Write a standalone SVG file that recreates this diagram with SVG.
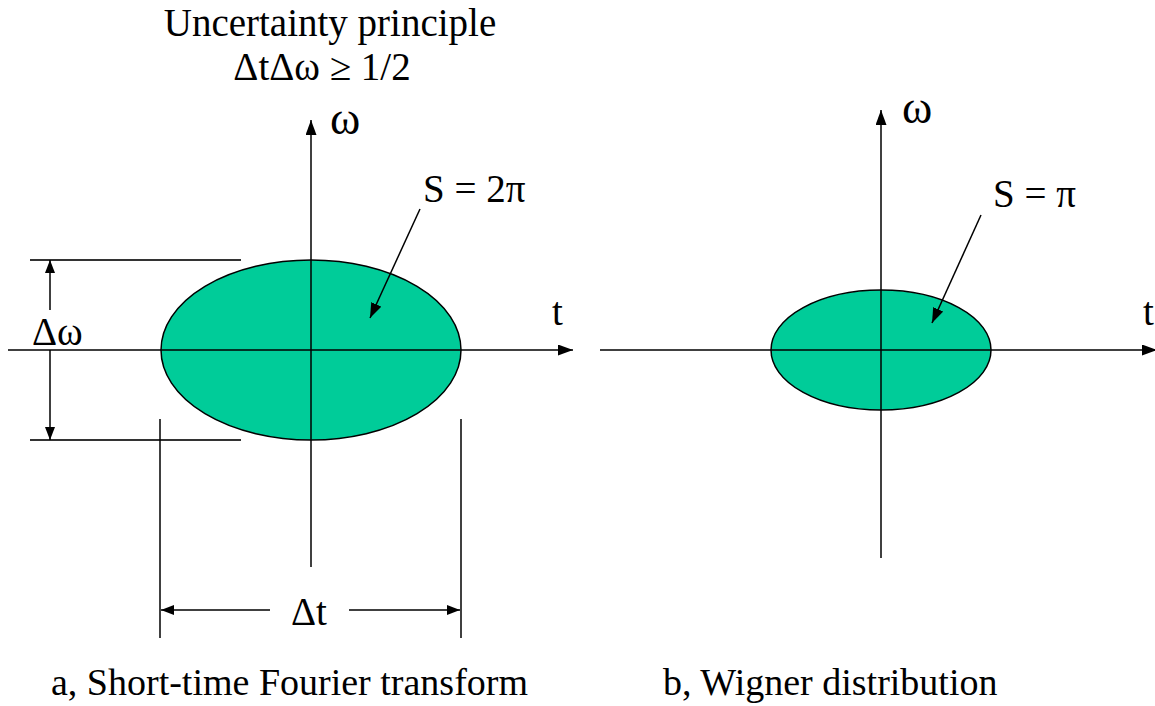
<svg xmlns="http://www.w3.org/2000/svg" width="1155" height="706" viewBox="0 0 1155 706">
<defs>
<marker id="ah" markerUnits="userSpaceOnUse" markerWidth="16" markerHeight="12" refX="15" refY="5.5" orient="auto"><path d="M0,0 L15,5.5 L0,11 z" fill="#000"/></marker>
<marker id="ahs" markerUnits="userSpaceOnUse" markerWidth="14" markerHeight="12" refX="13" refY="5" orient="auto"><path d="M0,0 L13,5 L0,10 z" fill="#000"/></marker>
<style>
text{font-family:'Liberation Serif','Times New Roman',serif;fill:#000}
.t{font-size:39px}
.w{font-size:46px}
.c{font-size:38px}
.ln{stroke:#000;stroke-width:1.5;fill:none}
.dim{stroke:#333;stroke-width:2;fill:none}
.blob{fill:#00CC99;stroke:#000;stroke-width:1.5}
</style>
</defs>
<g id="title">
<text class="t" x="330" y="36" text-anchor="middle">Uncertainty principle</text>
<text class="t" x="322" y="80" text-anchor="middle">ΔtΔω ≥ 1/2</text>
</g>
<g id="stft-ellipse"><ellipse class="blob" cx="311" cy="350" rx="150" ry="90"/></g>
<g id="wigner-ellipse"><ellipse class="blob" cx="881" cy="350" rx="110" ry="60"/></g>
<g id="connectors">
<line class="ln" x1="8" y1="350" x2="573" y2="350" marker-end="url(#ah)"/>
<line class="ln" x1="311" y1="567" x2="311" y2="120" marker-end="url(#ah)"/>
<line class="ln" x1="600" y1="350" x2="1157" y2="350" marker-end="url(#ah)"/>
<line class="ln" x1="881" y1="558" x2="881" y2="110" marker-end="url(#ah)"/>
<line class="dim" x1="30" y1="260" x2="241" y2="260"/>
<line class="dim" x1="30" y1="440" x2="241" y2="440"/>
<line class="ln" x1="50" y1="310" x2="50" y2="260" marker-end="url(#ahs)"/>
<line class="ln" x1="50" y1="350" x2="50" y2="440" marker-end="url(#ahs)"/>
<line class="ln" x1="160" y1="419" x2="160" y2="638"/>
<line class="ln" x1="461" y1="419" x2="461" y2="638"/>
<line class="ln" x1="270" y1="610" x2="161" y2="610" marker-end="url(#ahs)"/>
<line class="ln" x1="349" y1="610" x2="460" y2="610" marker-end="url(#ahs)"/>
<line class="ln" x1="420" y1="209" x2="370" y2="318" marker-end="url(#ah)"/>
<line class="ln" x1="981" y1="215" x2="932" y2="323" marker-end="url(#ah)"/>
</g>
<g id="labels">
<text class="w" x="330" y="134">ω</text>
<text class="w" x="902" y="123">ω</text>
<text class="t" x="552" y="325">t</text>
<text class="t" x="1143" y="325">t</text>
<text class="t" x="32" y="345">Δω</text>
<text class="t" x="291" y="625">Δt</text>
<text class="t" x="423" y="202">S = 2π</text>
<text class="t" x="993" y="207">S = π</text>
</g>
<g id="captions">
<text class="c" x="51" y="695">a, Short-time Fourier transform</text>
<text class="c" x="663" y="695">b, Wigner distribution</text>
</g>
</svg>
